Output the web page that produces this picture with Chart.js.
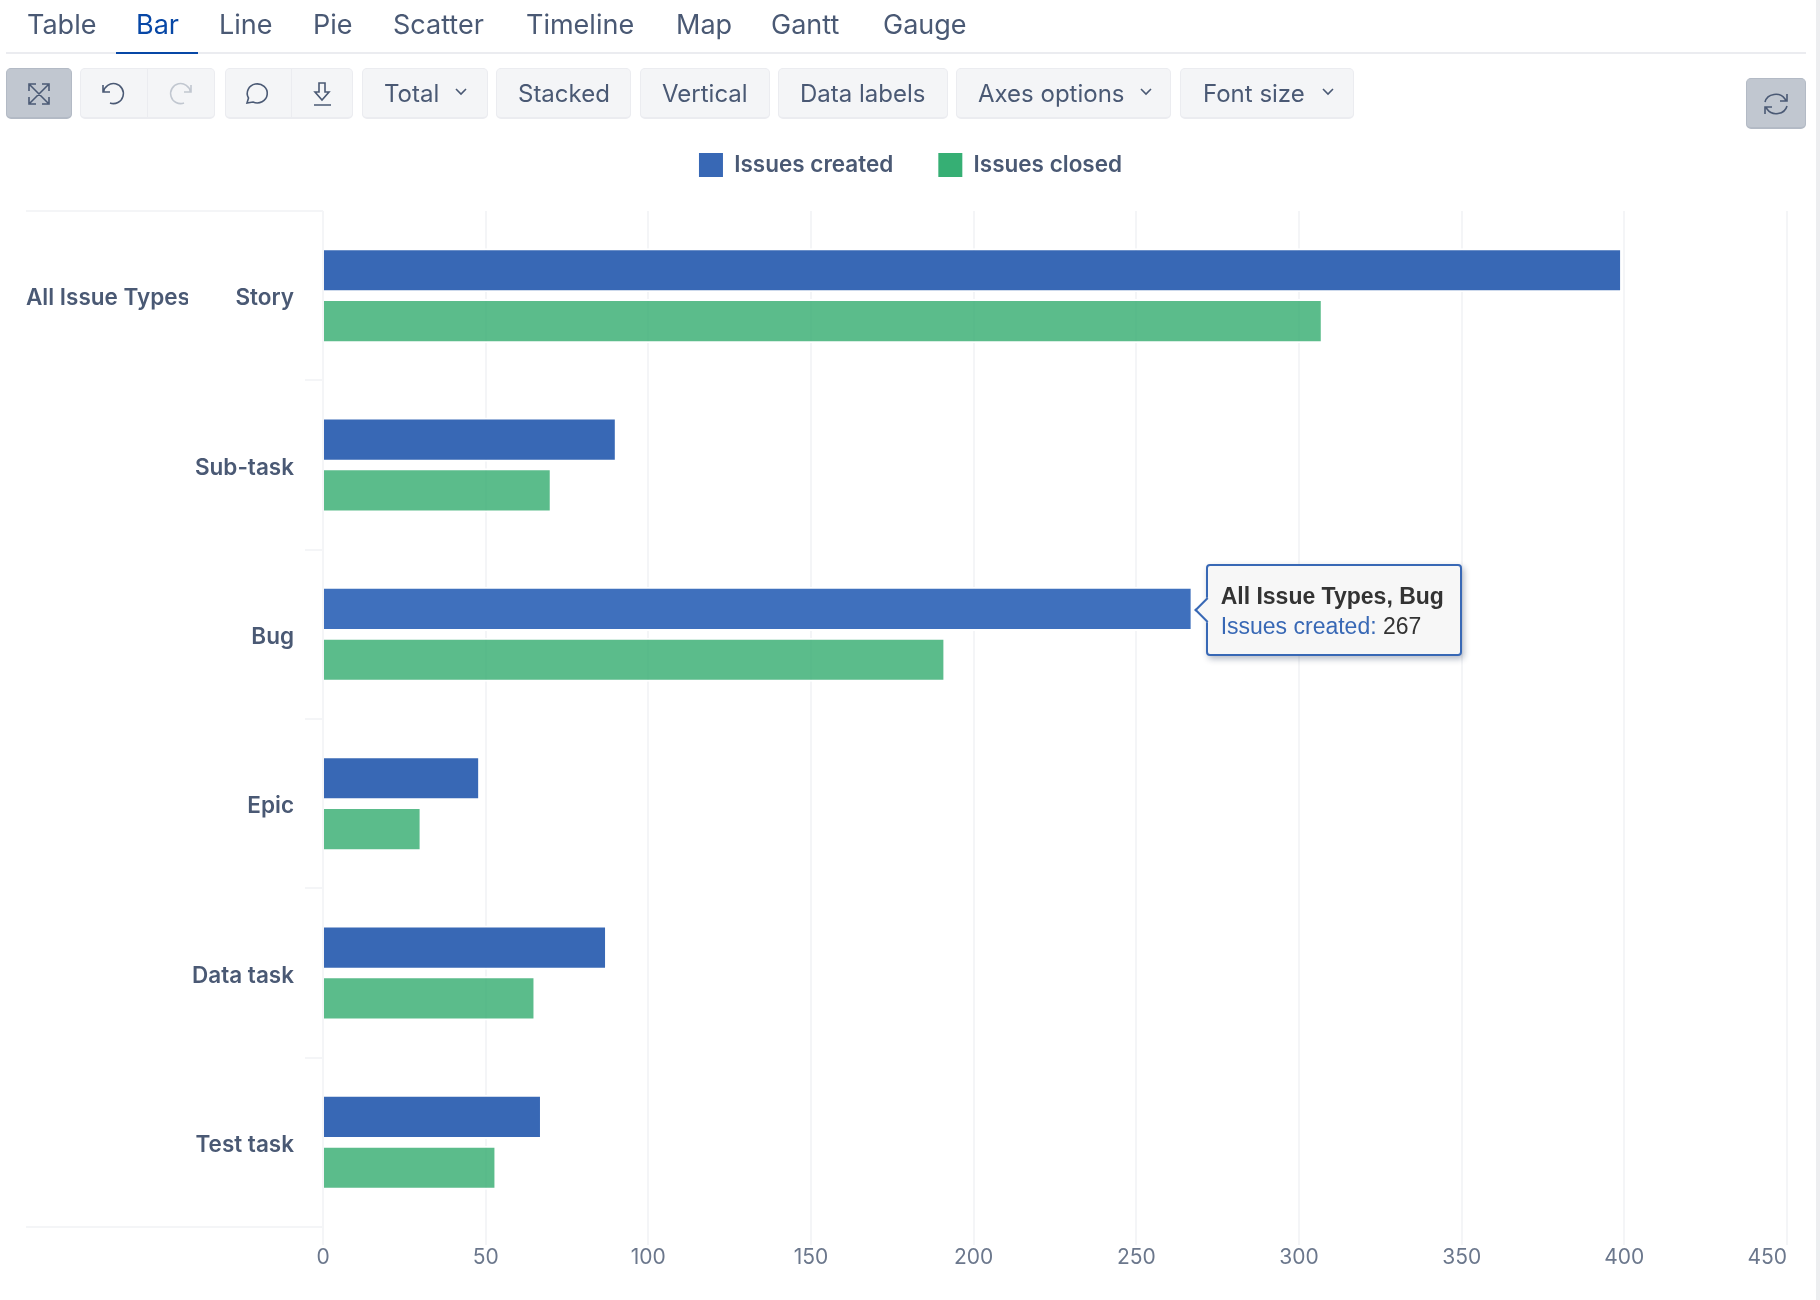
<!DOCTYPE html>
<html>
<head>
<meta charset="utf-8">
<title>Issues by type</title>
<script src="https://cdn.jsdelivr.net/npm/chart.js@4"></script>
<style>
  html, body { margin: 0; background: #fff; width: 1820px; height: 1300px; overflow: hidden; font-family: Inter, sans-serif; color: #4A5974; }
  canvas { position: absolute; left: 0; top: 0; }
  .tab { position: absolute; top: 8px; font-size: 27px; line-height: 33px; white-space: nowrap; }
  .tab.on { color: #0747A6; }
  #tabline { position: absolute; left: 6px; top: 52px; width: 1800px; height: 2px; background: #EBECF0; }
  #tabmark { position: absolute; left: 116px; top: 52px; width: 82px; height: 2px; background: #0747A6; }
  .btn { position: absolute; top: 68px; height: 51px; box-sizing: border-box; background: #F4F5F7; border: 1px solid #EBECF0; border-bottom-width: 2px; border-radius: 5px; font-size: 24px; line-height: 50px; white-space: nowrap; }
  .btn span { position: absolute; top: 0; }
  .btn svg { position: absolute; fill: none; stroke: #4A5974; stroke-width: 1.6; }
  .sel { background: #C1C7D0; border-color: #B3BAC5; }
  .sep { position: absolute; top: 0; bottom: 0; width: 1px; background: #EBECF0; }
  #scrollbar { position: absolute; left: 1816px; top: 0; width: 4px; height: 1300px; background: #EDEEF0; }
  #tip { position: absolute; box-sizing: border-box; width: 256px; height: 92px; background: #F7F7F7; border: 2px solid #3868B5; border-radius: 4px; box-shadow: 2px 3px 6px rgba(9,30,66,.3); font-family: "Liberation Sans", sans-serif; font-size: 23px; line-height: 30px; color: #333; padding: 15px 0 0 13px; white-space: nowrap; }
  #tip b { display: block; }
  #tip em { font-style: normal; color: #3868B5; }
  #tip i { position: absolute; left: -10px; top: 35px; width: 18px; height: 18px; box-sizing: border-box; background: #F7F7F7; border-left: 2px solid #3868B5; border-bottom: 2px solid #3868B5; transform: rotate(45deg); }
</style>
</head>
<body>
<canvas id="chart" width="1820" height="1300"></canvas>

<div id="tabline"></div><div id="tabmark"></div>
<div class="tab" style="left:27px">Table</div>
<div class="tab on" style="left:136px">Bar</div>
<div class="tab" style="left:219px">Line</div>
<div class="tab" style="left:313px">Pie</div>
<div class="tab" style="left:393px">Scatter</div>
<div class="tab" style="left:526px">Timeline</div>
<div class="tab" style="left:676px">Map</div>
<div class="tab" style="left:771px">Gantt</div>
<div class="tab" style="left:883px">Gauge</div>

<div class="btn sel" style="left:6px;width:66px">
  <svg style="left:19px;top:12px" width="26" height="26" viewBox="0 0 26 26"><path d="M4 4l18 18M22 4L4 22M3 10V3h7M16 3h7v7M3 16v7h7M23 16v7h-7"/></svg>
</div>
<div class="btn" style="left:80px;width:135px">
  <svg style="left:18px;top:11px" width="28" height="28" viewBox="0 0 28 28"><path d="M4 5v7h7M4.500 12A10 10 0 1 1 11 23"/></svg>
  <div class="sep" style="left:66px"></div>
  <svg style="left:86px;top:11px;stroke:#C1C7D0" width="28" height="28" viewBox="0 0 28 28"><path d="M24 5v7h-7M23.500 12A10 10 0 1 0 17 23"/></svg>
</div>
<div class="btn" style="left:225px;width:128px">
  <svg style="left:16px;top:11px" width="28" height="28" viewBox="0 0 28 28"><path d="M5 23l1.500-5A10 9.500 0 1 1 11 22z"/></svg>
  <div class="sep" style="left:65px"></div>
  <svg style="left:83px;top:11px" width="28" height="28" viewBox="0 0 28 28"><path d="M10 3h6v9h4l-7 8-7-8h4zM5 25h17"/></svg>
</div>
<div class="btn" style="left:362px;width:126px"><span style="left:21px">Total</span>
  <svg style="left:91px;top:18px" width="14" height="10" viewBox="0 0 14 10"><path d="M2 2l5 5 5-5"/></svg></div>
<div class="btn" style="left:496px;width:135px"><span style="left:21px">Stacked</span></div>
<div class="btn" style="left:640px;width:130px"><span style="left:21px">Vertical</span></div>
<div class="btn" style="left:778px;width:170px"><span style="left:21px">Data labels</span></div>
<div class="btn" style="left:956px;width:215px"><span style="left:21px">Axes options</span>
  <svg style="left:182px;top:18px" width="14" height="10" viewBox="0 0 14 10"><path d="M2 2l5 5 5-5"/></svg></div>
<div class="btn" style="left:1180px;width:174px"><span style="left:22px">Font size</span>
  <svg style="left:140px;top:18px" width="14" height="10" viewBox="0 0 14 10"><path d="M2 2l5 5 5-5"/></svg></div>
<div class="btn sel" style="left:1746px;top:78px;width:60px">
  <svg style="left:15px;top:11px" width="28" height="28" viewBox="0 0 28 28"><path d="M3 12A11 10 0 0 1 23 9l1 2M25 4v7h-7M25 16A11 10 0 0 1 5 19l-1-2M3 24v-7h7"/></svg>
</div>

<div id="scrollbar"></div>
<div id="tip"><b></b><em></em> <span></span><i></i></div>

<script>
// values
const categories = ['Story', 'Sub-task', 'Bug', 'Epic', 'Data task', 'Test task'];
const groupLabels = ['All Issue Types', '', '', '', '', ''];
const issuesCreated = [399, 90, 267, 48, 87, 67];
const issuesClosed = [307, 70, 191, 30, 65, 53];

const BLUE = '#3868B5';
const GREEN = '#36AF74';
const GREEN_BAR = 'rgba(50,171,110,0.8)';
const GRID = '#F4F5F7';
const LABEL = '#4A5974';
const hoverIndex = 2; // Bug bar has the tooltip open

// top and bottom lines run under the labels as far as the group column
const groupLines = {
  id: 'groupLines',
  beforeDraw(chart) {
    const { ctx, chartArea } = chart;
    const left = chart.scales.y2.left;
    ctx.save();
    ctx.fillStyle = GRID;
    ctx.fillRect(left, chartArea.top - 1, chartArea.left - left, 2);
    ctx.fillRect(left, chartArea.bottom - 1, chartArea.left - left, 2);
    ctx.restore();
    // last x label sits inside the plot, right aligned to its gridline
    const items = chart.scales.x.getLabelItems(chartArea);
    items[items.length - 1].options.textAlign = 'right';
  }
};

// legend keeps its own padding but must not push the plot down,
// and it sits a little right of the centre the layout gives it
const legendTweak = {
  id: 'legendTweak',
  beforeInit(chart) {
    const legend = chart.legend;
    const fit = legend.fit;
    const draw = legend.draw;
    legend.fit = function () {
      fit.call(this);
      this.height = 103;
    };
    legend.draw = function () {
      chart.ctx.save();
      chart.ctx.translate(4, 0);
      draw.call(this);
      chart.ctx.restore();
    };
  }
};

function showTip({ tooltip }) {
  if (!tooltip.dataPoints || !tooltip.dataPoints.length) return;
  const el = document.getElementById('tip');
  const point = tooltip.dataPoints[0];
  el.querySelector('b').textContent = groupLabels[0] + ', ' + categories[point.dataIndex];
  el.querySelector('em').textContent = point.dataset.label + ':';
  el.querySelector('span').textContent = point.formattedValue;
  el.style.left = (tooltip.caretX + 14) + 'px';
  el.style.top = (tooltip.caretY - 45) + 'px';
}

const bandBorder = { top: 2, bottom: 2, left: 0, right: 1 };

const chart = new Chart(document.getElementById('chart'), {
  type: 'bar',
  data: {
    labels: categories,
    datasets: [
      {
        label: 'Issues created',
        data: issuesCreated,
        backgroundColor: BLUE,
        hoverBackgroundColor: '#3F70BD',
        borderColor: '#fff',
        hoverBorderColor: '#fff',
        borderWidth: bandBorder,
        hoverBorderWidth: bandBorder,
        categoryPercentage: 0.6,
        barPercentage: 0.87
      },
      {
        label: 'Issues closed',
        data: issuesClosed,
        backgroundColor: GREEN_BAR,
        borderColor: '#fff',
        borderWidth: bandBorder,
        categoryPercentage: 0.6,
        barPercentage: 0.87
      }
    ]
  },
  options: {
    indexAxis: 'y',
    responsive: false,
    animation: false,
    events: [],
    layout: { padding: { top: 108, left: 26, right: 33, bottom: 0 } },
    scales: {
      x: {
        min: 0,
        max: 450,
        afterFit(scale) { scale.height = 73; },
        grid: { color: GRID, lineWidth: 2, tickLength: 18 },
        border: { display: false },
        ticks: { stepSize: 50, color: '#6B778C', padding: 0, maxRotation: 0, font: { family: 'Inter', size: 21 } }
      },
      y: {
        afterFit(scale) { scale.width = 135; },
        grid: { color: GRID, lineWidth: 2, drawOnChartArea: false, tickLength: 18 },
        border: { display: false },
        ticks: { color: LABEL, padding: 11, labelOffset: 3, font: { family: 'Inter', size: 22.5, weight: '600' } }
      },
      y2: {
        type: 'category',
        position: 'left',
        weight: 1,
        labels: groupLabels,
        afterFit(scale) { scale.width = 162; },
        grid: { display: false },
        border: { display: false },
        ticks: { color: LABEL, crossAlign: 'far', autoSkip: false, labelOffset: 3, font: { family: 'Inter', size: 22.5, weight: '600' } }
      }
    },
    plugins: {
      legend: {
        position: 'top',
        labels: {
          boxWidth: 24,
          boxHeight: 24,
          padding: 45,
          color: LABEL,
          font: { family: 'Inter', size: 22.5, weight: '600' },
          generateLabels(c) {
            return c.data.datasets.map((ds, i) => ({
              text: ds.label,
              fillStyle: i === 0 ? BLUE : GREEN,
              strokeStyle: i === 0 ? BLUE : GREEN,
              lineWidth: 0,
              fontColor: LABEL,
              datasetIndex: i
            }));
          }
        }
      },
      tooltip: { enabled: false, external: showTip }
    }
  },
  plugins: [groupLines, legendTweak]
});

const active = [{ datasetIndex: 0, index: hoverIndex }];
chart.setActiveElements(active);
chart.tooltip.setActiveElements(active, { x: 0, y: 0 });
chart.update();
</script>
</body>
</html>
